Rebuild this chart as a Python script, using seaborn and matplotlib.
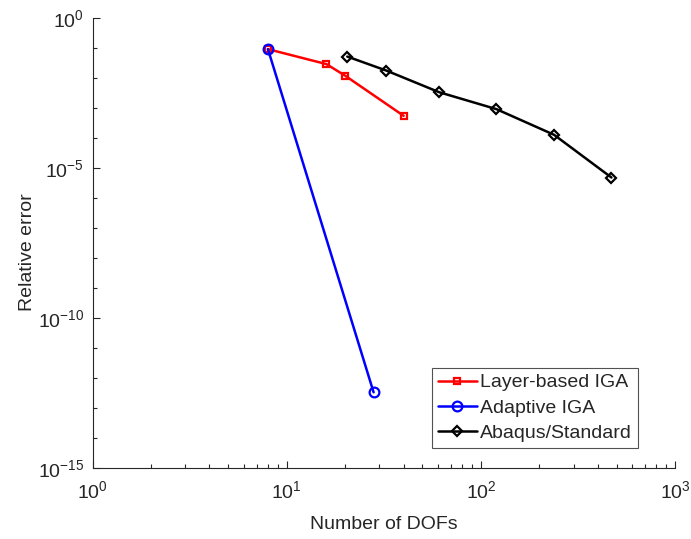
import numpy as np
import pandas as pd
import matplotlib
matplotlib.use("Agg")
import matplotlib.pyplot as plt
import seaborn as sns
from matplotlib.ticker import LogLocator, NullFormatter

sns.set_style("white")
plt.rcParams['font.family'] = ['Liberation Sans', 'DejaVu Sans']
plt.rcParams['mathtext.fontset'] = 'custom'
plt.rcParams['mathtext.rm'] = 'Liberation Sans'
plt.rcParams['mathtext.it'] = 'Liberation Sans'

layer_dofs = [8, 16, 20, 40]
layer_err = [0.09, 0.0286, 0.0117, 5.4e-4]
adaptive_dofs = [8, 28]
adaptive_err = [0.09, 3.3e-13]
abaqus_dofs = [20.5, 32.5, 61, 120, 238, 470]
abaqus_err = [0.051, 0.0175, 3.3e-3, 9.05e-4, 1.26e-4, 4.75e-6]
series_names = ["Layer-based IGA", "Adaptive IGA", "Abaqus/Standard"]

fig = plt.figure(figsize=(6.91, 5.39), dpi=100)
ax = fig.add_axes([0.134, 0.132, 0.843, 0.835])

styles = [
    (layer_dofs, layer_err, 'red', 's', 5),
    (adaptive_dofs, adaptive_err, 'blue', 'o', 7),
    (abaqus_dofs, abaqus_err, 'black', 'D', 5.5),
]
for name, (xs, ys, c, m, ms) in zip(series_names, styles):
    df = pd.DataFrame({"x": xs, "y": ys})
    sns.lineplot(data=df, x="x", y="y", ax=ax, color=c, marker=m,
                 markersize=ms, markerfacecolor='none', markeredgecolor=c,
                 markeredgewidth=1.6, linewidth=1.8, sort=False,
                 estimator=None, label=name)

ax.set_xscale('log')
ax.set_yscale('log')
ax.set_xlim(1, 1000)
ax.set_ylim(1e-15, 1)
ax.set_xticks([1, 10, 100, 1000])
ax.xaxis.set_minor_locator(LogLocator(base=10, subs=np.arange(2, 10), numticks=20))
ax.xaxis.set_minor_formatter(NullFormatter())
ax.set_yticks([1e-15, 1e-10, 1e-5, 1])
ax.yaxis.set_minor_locator(LogLocator(base=10, subs=[1.0], numticks=30))
ax.yaxis.set_minor_formatter(NullFormatter())

tc = '#262626'
ax.tick_params(which='both', direction='in', top=False, right=False,
               colors=tc, labelsize=14, left=True, bottom=True)
ax.tick_params(which='major', length=5, width=0.8)
ax.tick_params(which='minor', length=3, width=0.8)
ax.tick_params(axis='x', pad=9)
ax.tick_params(axis='y', pad=6)
for s in ['top', 'right']:
    ax.spines[s].set_visible(False)
for s in ['left', 'bottom']:
    ax.spines[s].set_color(tc)
    ax.spines[s].set_linewidth(0.8)

ax.set_xlabel("Number of DOFs", fontsize=14, color=tc, labelpad=10)
ax.set_ylabel("Relative error", fontsize=14, color=tc)
ax.yaxis.set_label_coords(-0.097, 0.48)

leg = ax.legend(loc='lower left', bbox_to_anchor=(0.583, 0.044), fontsize=14,
                frameon=True, fancybox=False, edgecolor=tc, handlelength=2.0,
                borderpad=0.3, labelspacing=0.4, handletextpad=0.15, borderaxespad=0)
leg.get_frame().set_linewidth(0.8)

fig.savefig("out.png", dpi=100)
